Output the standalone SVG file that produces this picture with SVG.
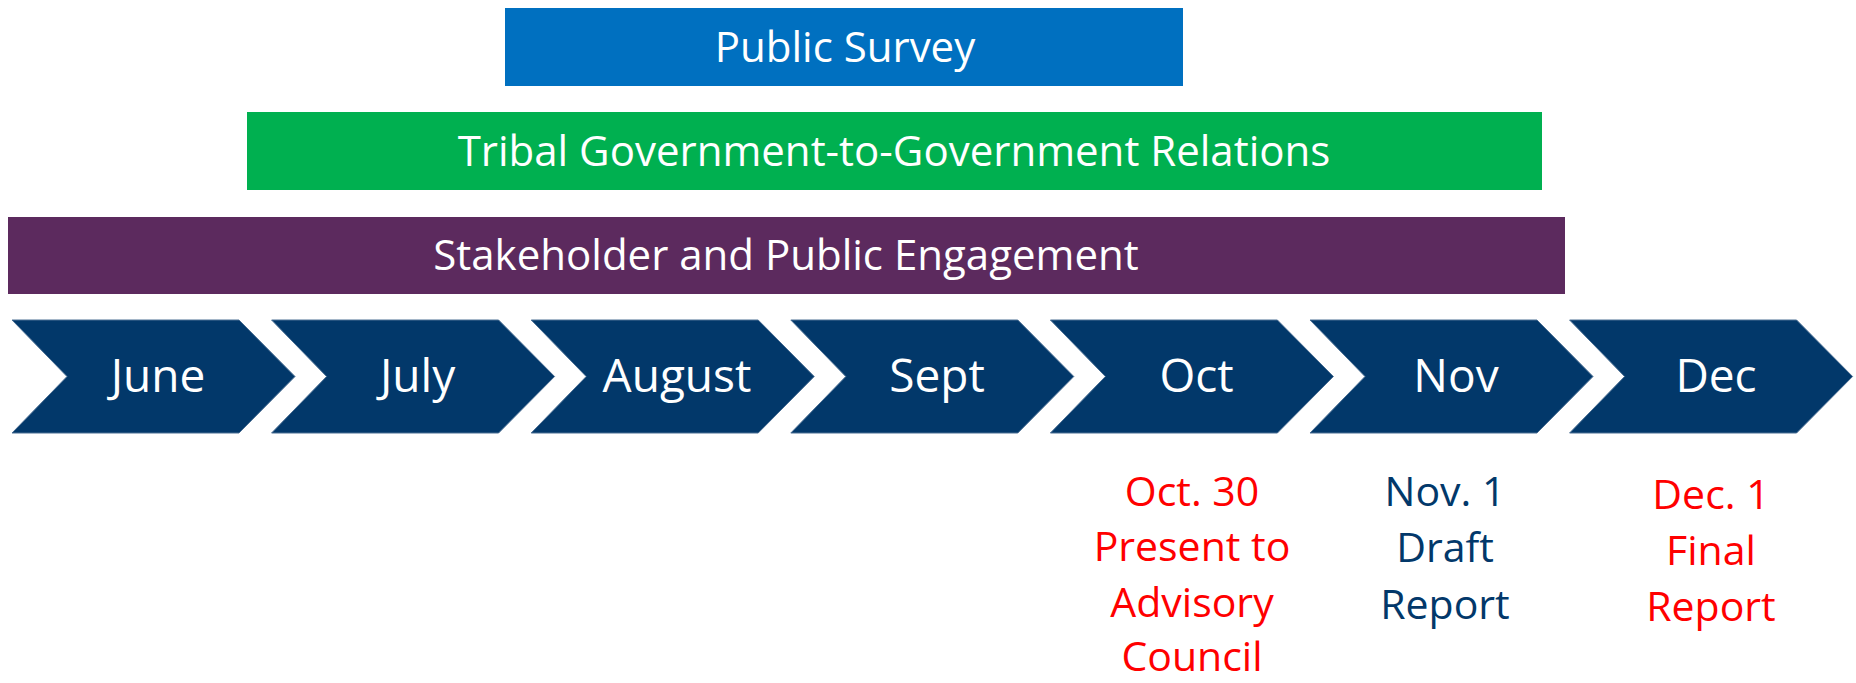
<svg xmlns="http://www.w3.org/2000/svg" width="1856" height="683" viewBox="0 0 1856 683">
<style>
text{font-family:"Open Sans","Noto Sans","Liberation Sans",sans-serif;text-anchor:middle}
.band{font-size:42px;fill:#ffffff}
.month{font-size:46px;fill:#ffffff}
.chev{fill:#02386A;stroke:#4A6E93;stroke-width:1}
.red{font-size:41px;fill:#FF0000}
.navy{font-size:41px;fill:#02386A}
</style>
<defs>
<polygon id="chevron" class="chev" points="0,320 227,320 283,376.5 227,433 0,433 55,376.5"/>
</defs>
<rect width="1856" height="683" fill="#ffffff"/>
<g id="public-survey">
<rect x="505" y="8" width="678" height="78" fill="#0070C0"/>
<text class="band" x="845" y="62">Public Survey</text>
</g>
<g id="tribal">
<rect x="247" y="112" width="1295" height="78" fill="#00B050"/>
<text class="band" x="894" y="166">Tribal Government-to-Government Relations</text>
</g>
<g id="stakeholder">
<rect x="8" y="217" width="1557" height="77" fill="#5C2A5E"/>
<text class="band" x="786" y="270">Stakeholder and Public Engagement</text>
</g>
<g id="june"><use href="#chevron" x="12"/><text class="month" x="158" y="392">June</text></g>
<g id="july"><use href="#chevron" x="271.6"/><text class="month" x="417.6" y="392">July</text></g>
<g id="august"><use href="#chevron" x="531.2"/><text class="month" x="677" y="392">August</text></g>
<g id="sept"><use href="#chevron" x="790.8"/><text class="month" x="937" y="392">Sept</text></g>
<g id="oct"><use href="#chevron" x="1050.4"/><text class="month" x="1196.5" y="392">Oct</text></g>
<g id="nov"><use href="#chevron" x="1310"/><text class="month" x="1456" y="392">Nov</text></g>
<g id="dec"><use href="#chevron" x="1569.6"/><text class="month" x="1716" y="392">Dec</text></g>
<g id="oct-milestone">
<text class="red" x="1192" y="506">Oct. 30</text>
<text class="red" x="1192" y="561">Present to</text>
<text class="red" x="1192" y="617">Advisory</text>
<text class="red" x="1192" y="671">Council</text>
</g>
<g id="nov-milestone">
<text class="navy" x="1445" y="506">Nov. 1</text>
<text class="navy" x="1445" y="562">Draft</text>
<text class="navy" x="1445" y="619">Report</text>
</g>
<g id="dec-milestone">
<text class="red" x="1711" y="509">Dec. 1</text>
<text class="red" x="1711" y="565">Final</text>
<text class="red" x="1711" y="621">Report</text>
</g>
<g id="connectors"></g>
</svg>
